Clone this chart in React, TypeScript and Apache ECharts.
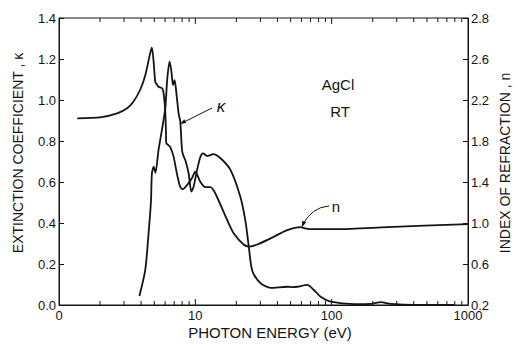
import React, { useEffect, useRef } from "react";
import * as echarts from "echarts";

// Photon energy (eV) and extinction coefficient κ of AgCl at room temperature
const kappaEnergy = [
  3.89, 4.29, 4.54, 4.73, 4.8, 4.95, 5.1, 5.37, 5.69, 6.02, 6.22, 6.47, 6.66,
  6.86, 7.04, 7.19, 7.33, 7.56, 7.76, 7.98, 8.16, 8.44, 8.93, 9.35, 9.72, 10.3,
  10.9, 11.4, 12.2, 13.5, 15.3, 18.1, 21.4, 23.3, 24.6, 25.7, 26.8, 30.1, 35.6,
  47.2, 52, 56, 66.3, 74.1, 83, 98.3, 146, 195, 215, 232, 250, 290, 400, 790,
];
const kappaValues = [
  0.044, 0.17, 0.35, 0.51, 0.64, 0.675, 0.645, 0.756, 0.854, 0.96, 1.1, 1.187,
  1.145, 1.073, 1.097, 1.06, 1.008, 0.93, 0.894, 0.756, 0.73, 0.707, 0.642,
  0.553, 0.578, 0.659, 0.723, 0.74, 0.727, 0.736, 0.716, 0.659, 0.527, 0.41,
  0.29, 0.19, 0.15, 0.106, 0.084, 0.089, 0.087, 0.089, 0.098, 0.073, 0.04,
  0.016, 0.004, 0.005, 0.012, 0.014, 0.009, 0.004, 0.001, 0.0,
];

// Photon energy (eV) and index of refraction n
const nEnergy = [
  1.36, 2.0, 2.67, 3.16, 3.5, 3.94, 4.29, 4.67, 4.8, 4.94, 5.08, 5.23, 5.37,
  5.75, 5.95, 6.02, 6.09, 6.12, 6.33, 6.55, 6.92, 7.33, 7.76, 8.12, 8.69, 9.46,
  10.0, 10.9, 11.85, 12.9, 14.0, 17.1, 19.1, 22.6, 24.7, 28.4, 35.6, 47.2, 59.2,
  62.6, 70.1, 110, 257, 1000,
];
const nValues = [
  2.02, 2.03, 2.07, 2.12, 2.18, 2.3, 2.44, 2.66, 2.71, 2.58, 2.38, 2.35, 2.33,
  2.31, 2.18, 2.08, 1.89, 1.78, 1.76, 1.74, 1.65, 1.48, 1.35, 1.33, 1.37, 1.44,
  1.5, 1.4, 1.35, 1.35, 1.29, 1.03, 0.9, 0.79, 0.77, 0.79, 0.85, 0.93, 0.96,
  0.95, 0.94, 0.94, 0.96, 0.99,
];

// Axis tick labels
const energyTickLabels = ["0", "10", "100", "1000"];
const nTickLabels = ["0.2", "0.6", "1.0", "1.4", "1.8", "2.2", "2.6", "2.8"];

// Logarithmic minor tick positions (2..9 in each decade) plus the inner decades
const decades = [1, 10, 100];
const minorTicks = decades.flatMap((d) => [2, 3, 4, 5, 6, 7, 8, 9].map((m) => m * d));
const majorInnerTicks = [10, 100];

const FONT = "'Liberation Sans', Arial, Helvetica, sans-serif";
const INK = "#141414";

export default function App() {
  const ref = useRef<HTMLDivElement>(null);

  useEffect(() => {
    if (!ref.current) return;
    const chart = echarts.init(ref.current, undefined, { renderer: "svg" });

    const tickData = [
      ...minorTicks.map((v) => [v, 0, 0]),
      ...majorInnerTicks.map((v) => [v, 0, 1]),
    ];

    const option: any = {
      animation: false,
      backgroundColor: "#ffffff",
      grid: {
        left: 59,
        right: 50,
        top: 18,
        bottom: 40,
        show: true,
        borderColor: INK,
        borderWidth: 1,
        backgroundColor: "transparent",
      },
      xAxis: {
        type: "log",
        logBase: 10,
        min: 1,
        max: 1000,
        axisLine: { show: true, lineStyle: { color: INK, width: 1 } },
        axisTick: { show: false },
        splitLine: { show: false },
        minorTick: { show: false },
        axisLabel: {
          color: INK,
          fontFamily: FONT,
          fontSize: 13,
          margin: 4,
          formatter: (_v: number, i: number) => energyTickLabels[i] ?? "",
        },
      },
      yAxis: [
        {
          type: "value",
          min: 0,
          max: 1.4,
          interval: 0.2,
          position: "left",
          axisLine: { show: true, lineStyle: { color: INK, width: 1 } },
          axisTick: { show: true, inside: true, length: 5, lineStyle: { color: INK } },
          splitLine: { show: false },
          axisLabel: {
            color: INK,
            fontFamily: FONT,
            fontSize: 13,
            margin: 3,
            formatter: (v: number) => v.toFixed(1),
          },
        },
        {
          type: "value",
          min: 0.2,
          max: 3.0,
          interval: 0.4,
          position: "right",
          axisLine: { show: true, lineStyle: { color: INK, width: 1 } },
          axisTick: { show: true, inside: true, length: 5, lineStyle: { color: INK } },
          splitLine: { show: false },
          axisLabel: {
            color: INK,
            fontFamily: FONT,
            fontSize: 13,
            margin: 3,
            formatter: (v: number) => nTickLabels[Math.round((v - 0.2) / 0.4)] ?? "",
          },
        },
      ],
      series: [
        {
          name: "κ",
          type: "line",
          yAxisIndex: 0,
          data: kappaEnergy.map((e, i) => [e, kappaValues[i]]),
          showSymbol: false,
          smooth: 0.25,
          lineStyle: { color: INK, width: 1.8 },
          z: 3,
        },
        {
          name: "n",
          type: "line",
          yAxisIndex: 1,
          data: nEnergy.map((e, i) => [e, nValues[i]]),
          showSymbol: false,
          smooth: 0.25,
          lineStyle: { color: INK, width: 1.8 },
          z: 3,
        },
        {
          // inward ticks on the bottom and top frame of the log energy axis
          type: "custom",
          yAxisIndex: 0,
          silent: true,
          clip: false,
          data: tickData,
          encode: { x: 0, y: 1 },
          renderItem: (_p: any, api: any) => {
            const e = api.value(0);
            const major = api.value(2) === 1;
            const bottom = api.coord([e, 0]);
            const top = api.coord([e, 1.4]);
            const len = major ? 6 : 4;
            const style = { stroke: INK, lineWidth: 1 };
            return {
              type: "group",
              children: [
                { type: "line", shape: { x1: bottom[0], y1: bottom[1], x2: bottom[0], y2: bottom[1] - len }, style },
                { type: "line", shape: { x1: top[0], y1: top[1], x2: top[0], y2: top[1] + len }, style },
              ],
            };
          },
          z: 2,
        },
      ],
      graphic: [
        {
          type: "text",
          x: 18,
          y: 153,
          rotation: Math.PI / 2,
          style: {
            text: "EXTINCTION COEFFICIENT , κ",
            font: `14px ${FONT}`,
            fill: INK,
            align: "center",
            verticalAlign: "middle",
          },
        },
        {
          type: "text",
          x: 505,
          y: 163,
          rotation: Math.PI / 2,
          style: {
            text: "INDEX OF REFRACTION , n",
            font: `14px ${FONT}`,
            fill: INK,
            align: "center",
            verticalAlign: "middle",
          },
        },
        {
          type: "text",
          x: 270,
          y: 332,
          style: {
            text: "PHOTON ENERGY (eV)",
            font: `15px ${FONT}`,
            fill: INK,
            align: "center",
            verticalAlign: "middle",
          },
        },
        {
          type: "text",
          x: 338,
          y: 84,
          style: { text: "AgCl", font: `15px ${FONT}`, fill: INK, align: "center", verticalAlign: "middle" },
        },
        {
          type: "text",
          x: 340,
          y: 111,
          style: { text: "RT", font: `15px ${FONT}`, fill: INK, align: "center", verticalAlign: "middle" },
        },
        // κ label and its pointer
        {
          type: "text",
          x: 221,
          y: 106,
          style: { text: "κ", font: `italic 17px ${FONT}`, fill: INK, align: "center", verticalAlign: "middle" },
        },
        {
          type: "line",
          shape: { x1: 212, y1: 108, x2: 182, y2: 123 },
          style: { stroke: INK, lineWidth: 1 },
        },
        {
          type: "polygon",
          shape: { points: [[180, 124], [186.2, 122.9], [184.3, 119.3]] },
          style: { fill: INK },
        },
        // n label and its curved pointer
        {
          type: "text",
          x: 336,
          y: 206,
          style: { text: "n", font: `15px ${FONT}`, fill: INK, align: "center", verticalAlign: "middle" },
        },
        {
          type: "bezierCurve",
          shape: { x1: 329, y1: 206, cpx1: 312, cpy1: 207, x2: 302.5, y2: 225 },
          style: { stroke: INK, lineWidth: 1, fill: "none" },
        },
        {
          type: "polygon",
          shape: { points: [[301.8, 227.5], [306.1, 222.2], [302.3, 220.7]] },
          style: { fill: INK },
        },
      ],
    };

    chart.setOption(option);
    return () => chart.dispose();
  }, []);

  return (
    <div
      ref={ref}
      style={{ position: "absolute", left: 0, top: 0, width: 518, height: 345, background: "#fff" }}
    />
  );
}
